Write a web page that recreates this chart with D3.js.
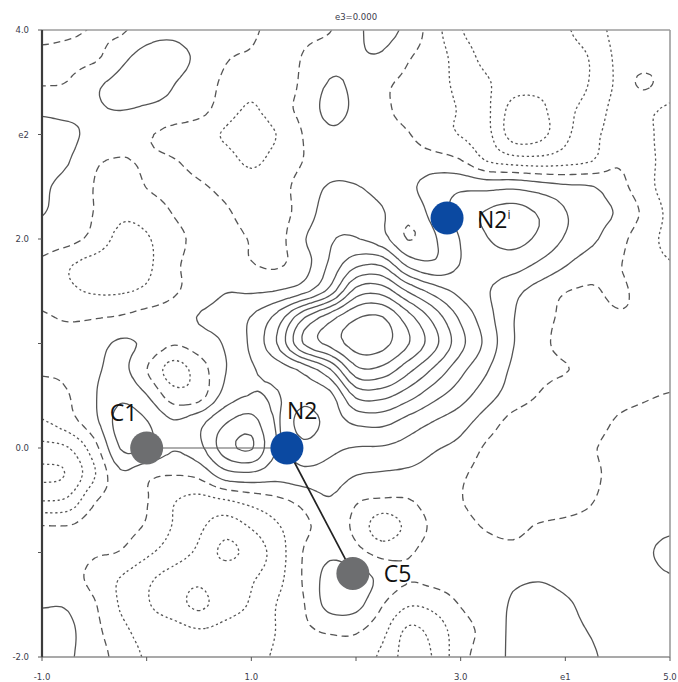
<!DOCTYPE html>
<html>
<head>
<meta charset="utf-8">
<title>Section e3=0.000</title>
<script src="https://cdnjs.cloudflare.com/ajax/libs/d3/7.8.5/d3.min.js"></script>
<style>
  body { margin: 0; background: #fff; }
  .iso { fill: none; stroke: #555; stroke-width: 1.3; stroke-linecap: butt; stroke-linejoin: round; }
  .axis-text { font-family: "DejaVu Sans", sans-serif; font-size: 8.5px; fill: #3b3b4b; }
  .atom-label { font-family: "Open Sans", sans-serif; font-size: 23px; fill: #111; }
</style>
</head>
<body>
<script>
// grid nodes (data units), rows listed from the top edge (e2 = 4) down
var gridX = [-1, -0.75, -0.5, -0.25, 0, 0.25, 0.5, 0.75, 1, 1.25, 1.5, 1.75, 2,
             2.25, 2.5, 2.75, 3, 3.25, 3.5, 3.75, 4, 4.25, 4.5, 4.75, 5];
var gridY = [4, 3.75, 3.5, 3.25, 3, 2.75, 2.5, 2.25, 2, 1.75, 1.5, 1.25, 1,
             0.75, 0.5, 0.25, 0, -0.25, -0.5, -0.75, -1, -1.25, -1.5, -1.75, -2];

// map values, in contour steps (0 = dashed line)
var density = [
  [0.3, 0.15, -0.05, -0.15, 0.6, 0.8, 0.5, 0.3, 0.1, -0.2, -0.2, -0.05, 0.8, 1.3, 0.7, -0.6, -1.95, -2.4, -2.5, -2.4, -2.1, -1.5, -0.7, -0.6, -0.7],
  [-0.2, -0.25, -0.2, 0.7, 1.3, 1.3, 0.8, 0.1, -0.1, -0.4, 0.05, 0.6, 0.9, 0.9, 0.1, -0.5, -1.5, -2.3, -2.6, -2.7, -2.4, -1.9, -0.8, -0.6, -0.7],
  [-0.1, 0.03, 0.8, 1.2, 1.45, 1.05, 0.6, -0.2, -0.7, -0.6, 0.2, 1.05, 0.8, 0.2, -0.2, -0.6, -1.3, -1.9, -2.5, -2.7, -2.6, -1.9, -0.8, 0.2, -0.6],
  [0.8, 0.7, 0.9, 1.05, 0.9, 0.7, 0.4, -0.5, -1.1, -0.4, 0.3, 1.3, 0.8, 0.2, -0.3, -0.6, -1.1, -1.8, -3.3, -3.2, -2.3, -1.6, -0.7, -0.8, -1.1],
  [1.3, 1.2, 0.7, 0.3, 0.1, -0.3, -0.6, -1.1, -1.6, -0.95, 0.05, 0.8, 0.6, 0.3, 0.05, -0.6, -1.05, -1.7, -3.4, -3.3, -2.2, -1.3, -0.6, -0.8, -1.3],
  [1.2, 1.05, 0.15, -0.05, 0.1, 0.05, -0.3, -0.6, -1.2, -0.6, 0.02, 0.5, 0.6, 0.5, 0.4, 0.4, 0.05, -1.05, -1.5, -1.6, -1.4, -1.05, -0.15, -0.7, -1.3],
  [1.1, 0.7, -0.03, -0.6, 0.03, 0.25, 0.1, -0.2, -0.5, -0.3, 0.35, 1.1, 1.05, 0.7, 0.8, 1.5, 1.8, 1.7, 1.8, 1.5, 1.2, 1.05, 0.4, -0.6, -1.4],
  [1.05, 0.5, -0.03, -0.8, -0.6, 0.03, 0.3, 0.1, -0.3, -0.3, 0.4, 1.6, 1.7, 1.1, 0.3, 1.4, 2.4, 3.1, 3.4, 2.9, 2.05, 1.3, 0.9, -0.2, -1.2],
  [0.5, 0.3, -0.3, -1.3, -1.1, -0.3, 0.2, 0.25, -0.05, -0.3, 0.9, 1.9, 2.05, 1.4, -0.05, 0.9, 2.05, 2.95, 3.3, 2.8, 1.9, 1.2, 0.4, -0.6, -1.2],
  [-0.2, -0.9, -1.4, -1.5, -1.2, -0.2, 0.3, 0.35, 0.05, -0.1, 0.6, 2.2, 3.8, 3.9, 1.8, 1.2, 2.05, 2.4, 2.4, 1.8, 1.05, 0.4, 0.1, -0.6, -0.95],
  [-0.3, -0.8, -1.1, -1.1, -0.8, -0.15, 0.4, 0.95, 0.9, 1.05, 1.7, 3.4, 6.4, 6.6, 4.9, 3.6, 2.7, 2.1, 1.3, 0.6, 0.03, -0.1, 0.15, -0.3, -0.7],
  [0.1, -0.1, -0.05, 0.1, 0.4, 0.5, 1.05, 1.4, 2.05, 3.4, 5.9, 7.6, 8.9, 9.05, 7.4, 5.6, 3.8, 2.4, 1.05, 0.4, -0.2, -0.3, -0.1, -0.1, -0.4],
  [0.3, 0.35, 0.6, 1.15, 0.8, 0.1, 0.5, 1.1, 2.2, 4.05, 7.05, 8.3, 9.4, 9.3, 8.05, 6.3, 4.3, 2.7, 1.05, 0.3, -0.3, -0.4, -0.4, -0.3, -0.3],
  [0.1, 0.2, 0.8, 1.3, 0.03, -1.4, -0.5, 0.95, 1.9, 2.4, 3.3, 4.9, 7.7, 7.7, 6.3, 4.8, 3.3, 2.1, 0.8, 0.3, 0.05, -0.3, -0.4, -0.4, -0.3],
  [-0.4, -0.05, 0.9, 1.8, 1.05, -0.5, -0.4, 1.4, 2.05, 1.95, 2.6, 2.7, 5.2, 5.3, 4.4, 3.3, 2.4, 1.4, 0.5, -0.05, -0.5, -0.6, -0.3, -0.1, 0.05],
  [-1.1, -0.4, 0.7, 2.4, 2.05, 1.1, 1.7, 2.9, 3.4, 1.9, 3.6, 2.6, 3.2, 3.3, 2.6, 1.95, 1.4, 0.5, -0.3, -0.5, -0.6, -0.4, 0.1, 0.3, 0.4],
  [-2.3, -2.05, -0.4, 2.05, 2.05, 1.1, 1.7, 3.5, 4.1, 1.9, 2.6, 2.2, 1.95, 1.9, 1.6, 1.1, 0.7, -0.15, -0.5, -0.7, -0.6, -0.1, 0.3, 0.5, 0.6],
  [-3.2, -2.9, -1.1, 0.8, 0.2, 0.05, 0.3, 1.6, 1.8, 1.4, 1.7, 1.6, 1.05, 0.9, 0.8, 0.6, 0.15, -0.4, -0.7, -0.8, -0.7, -0.2, 0.3, 0.6, 0.7],
  [-2.05, -1.8, -0.1, 0.3, 0.05, -0.9, -1.3, -1.05, -0.6, -0.2, 0.3, 0.9, 0.1, -0.1, -0.05, 0.4, 0.05, -0.5, -0.7, -0.7, -0.4, -0.05, 0.4, 0.7, 0.8],
  [0.05, 0.05, 0.4, 0.3, -0.1, -1.05, -1.8, -2.5, -1.9, -1.1, -0.2, 0.3, -0.2, -1.6, -0.7, 0.2, 0.3, -0.1, -0.3, 0.1, 0.2, 0.3, 0.6, 0.8, 0.9],
  [0.4, 0.35, 0.1, -0.05, -0.8, -1.5, -2.2, -3.2, -2.6, -1.5, 0.05, 0.8, 0.3, -0.3, -0.1, 0.4, 0.6, 0.4, 0.3, 0.5, 0.5, 0.6, 0.7, 0.9, 1.15],
  [0.6, 0.4, -0.3, -1.05, -1.8, -2.4, -2.8, -2.3, -2.1, -1.3, 0.1, 1.4, 1.5, 0.7, 0.1, 0.3, 0.5, 0.7, 0.85, 0.95, 0.8, 0.7, 0.7, 0.8, 0.95],
  [0.95, 0.9, 0.1, -1.1, -1.9, -2.5, -3.2, -2.4, -1.9, -0.95, -0.05, 1.35, 1.3, 0.05, -0.9, -0.7, 0.05, 0.5, 1.1, 1.3, 1.1, 0.8, 0.7, 0.7, 0.7],
  [1.3, 1.2, 0.3, -0.7, -1.4, -1.6, -1.9, -1.7, -1.5, -0.95, -0.2, 0.1, 0.1, -0.7, -2.2, -1.6, -0.4, 0.3, 1.2, 1.4, 1.2, 0.95, 0.6, 0.6, 0.6],
  [1.2, 1.1, 0.5, -0.4, -1.1, -1.3, -1.4, -1.3, -1.2, -0.9, -0.6, -0.4, -0.5, -1.2, -2.4, -1.9, -0.3, 0.4, 1.2, 1.5, 1.4, 1.1, 0.7, 0.5, 0.4]
];

var levels = [-3, -2, -1, 0, 1, 2, 3, 4, 5, 6, 7, 8, 9];

var atomNames = ["C1", "N2", "C5", "N2"];
var atomSup = ["", "", "", "i"];
var atomKind = ["C", "N", "C", "N"];
var atomX = [0.0, 1.34, 1.97, 2.87];
var atomY = [0.0, 0.0, -1.2, 2.2];
var bonds = [[0, 1], [1, 2]];

var xTickValues = [-1, 0, 1, 2, 3, 4, 5];
var xTickLabels = ["-1.0", "", "1.0", "", "3.0", "e1", "5.0"];
var yTickValues = [4, 3, 2, 1, 0, -1, -2];
var yTickLabels = ["4.0", "e2", "2.0", "", "0.0", "", "-2.0"];

var w = 678, h = 682;
var x = d3.scaleLinear().domain([-1, 5]).range([42, 670]);
var y = d3.scaleLinear().domain([-2, 4]).range([657, 30]);

var svg = d3.select("body").append("svg")
    .attr("width", w)
    .attr("height", h);

svg.append("defs").append("clipPath")
    .attr("id", "plot")
    .append("rect")
    .attr("x", x(-1)).attr("y", y(4))
    .attr("width", x(5) - x(-1)).attr("height", y(-2) - y(4));

// drawing only: resample the grid with a cubic kernel so the isolines come out smooth
var nx = gridX.length, ny = gridY.length, sub = 4;
var fx = (nx - 1) * sub + 1, fy = (ny - 1) * sub + 1;

function at(i, j) {
    i = Math.max(0, Math.min(nx - 1, i));
    j = Math.max(0, Math.min(ny - 1, j));
    return density[j][i];
}
function cubicWeights(t) {
    var t2 = t * t, t3 = t2 * t;
    return [(-t3 + 2 * t2 - t) / 2, (3 * t3 - 5 * t2 + 2) / 2,
            (-3 * t3 + 4 * t2 + t) / 2, (t3 - t2) / 2];
}
var fine = new Array(fx * fy);
for (var b = 0; b < fy; b++) {
    var gj = b / sub, j0 = Math.floor(gj), wy = cubicWeights(gj - j0);
    for (var a = 0; a < fx; a++) {
        var gi = a / sub, i0 = Math.floor(gi), wx = cubicWeights(gi - i0);
        var s = 0;
        for (var m = 0; m < 4; m++) {
            for (var n = 0; n < 4; n++) {
                s += wy[m] * wx[n] * at(i0 - 1 + n, j0 - 1 + m);
            }
        }
        fine[b * fx + a] = s;
    }
}

var contours = d3.contours().size([fx, fy]).thresholds(levels)(fine);

var stepX = (gridX[1] - gridX[0]) / sub, stepY = (gridY[1] - gridY[0]) / sub;
function px(g) { return x(gridX[0] + (g - 0.5) * stepX); }
function py(g) { return y(gridY[0] + (g - 0.5) * stepY); }

function onEdge(p) {
    return p[0] <= 0 || p[0] >= fx || p[1] <= 0 || p[1] >= fy;
}

// cut rings where they run along the border of the grid
function pieces(ring) {
    var pts = ring.slice(0, -1);
    var len = pts.length;
    var start = pts.findIndex(onEdge);
    if (start < 0) return [{ closed: true, pts: pts }];
    var out = [], run = [];
    for (var k = 1; k <= len; k++) {
        var p = pts[(start + k) % len];
        if (onEdge(p)) {
            if (run.length > 1) out.push({ closed: false, pts: run });
            run = [];
        } else {
            run.push(p);
        }
    }
    if (run.length > 1) out.push({ closed: false, pts: run });
    return out;
}

var openLine = d3.line()
    .x(function(p) { return px(p[0]); })
    .y(function(p) { return py(p[1]); })
    .curve(d3.curveCatmullRom.alpha(0.5));
var closedLine = d3.line()
    .x(function(p) { return px(p[0]); })
    .y(function(p) { return py(p[1]); })
    .curve(d3.curveCatmullRomClosed.alpha(0.5));

var gIso = svg.append("g").attr("clip-path", "url(#plot)");
contours.forEach(function(c) {
    var dash = c.value < 0 ? "2.3,2.7" : (c.value === 0 ? "7,4.5" : null);
    c.coordinates.forEach(function(poly) {
        poly.forEach(function(ring) {
            pieces(ring).forEach(function(part) {
                gIso.append("path")
                    .attr("class", "iso")
                    .attr("stroke-dasharray", dash)
                    .attr("d", part.closed ? closedLine(part.pts) : openLine(part.pts));
            });
        });
    });
});

// frame
svg.append("line").attr("x1", x(-1)).attr("x2", x(5)).attr("y1", y(4)).attr("y2", y(4))
    .attr("stroke", "#9c9c9c").attr("stroke-width", 1.6);
svg.append("line").attr("x1", x(5)).attr("x2", x(5)).attr("y1", y(4)).attr("y2", y(-2))
    .attr("stroke", "#9c9c9c").attr("stroke-width", 1.6);
svg.append("line").attr("x1", x(-1)).attr("x2", x(5)).attr("y1", y(-2)).attr("y2", y(-2))
    .attr("stroke", "#8c8c8c").attr("stroke-width", 1.6);
svg.append("line").attr("x1", x(-1)).attr("x2", x(-1)).attr("y1", y(4)).attr("y2", y(-2))
    .attr("stroke", "#3c3c3c").attr("stroke-width", 2.2);

// ticks
svg.selectAll(".ytick").data(yTickValues).enter().append("line")
    .attr("x1", x(-1) - 4).attr("x2", x(-1))
    .attr("y1", function(d) { return y(d); }).attr("y2", function(d) { return y(d); })
    .attr("stroke", "#555").attr("stroke-width", 1);
svg.selectAll(".ylab").data(yTickValues).enter().append("text")
    .attr("class", "axis-text")
    .attr("x", 29)
    .attr("y", function(d) { return y(d) + 3; })
    .attr("text-anchor", "end")
    .text(function(d, i) { return yTickLabels[i]; });

svg.selectAll(".xtick").data(xTickValues).enter().append("line")
    .attr("x1", function(d) { return x(d); }).attr("x2", function(d) { return x(d); })
    .attr("y1", y(-2)).attr("y2", y(-2) + 4)
    .attr("stroke", "#555").attr("stroke-width", 1);
svg.selectAll(".xlab").data(xTickValues).enter().append("text")
    .attr("class", "axis-text")
    .attr("x", function(d) { return x(d); })
    .attr("y", 680)
    .attr("text-anchor", "middle")
    .text(function(d, i) { return xTickLabels[i]; });

svg.append("text")
    .attr("class", "axis-text")
    .attr("x", (x(-1) + x(5)) / 2)
    .attr("y", 20)
    .attr("text-anchor", "middle")
    .text("e3=0.000");

// bonds and atoms
bonds.forEach(function(bd, i) {
    svg.append("line")
        .attr("x1", x(atomX[bd[0]])).attr("y1", y(atomY[bd[0]]))
        .attr("x2", x(atomX[bd[1]])).attr("y2", y(atomY[bd[1]]))
        .attr("stroke", i === 0 ? "#5e5e5e" : "#222")
        .attr("stroke-width", i === 0 ? 1.2 : 1.7);
});

svg.selectAll(".atom").data(atomNames).enter().append("circle")
    .attr("cx", function(d, i) { return x(atomX[i]); })
    .attr("cy", function(d, i) { return y(atomY[i]); })
    .attr("r", 16.5)
    .attr("fill", function(d, i) { return atomKind[i] === "N" ? "#0b49a1" : "#6d6e70"; });

// label offsets in pixels from the atom centre
var labelDx = [-37, 0, 31, 30];
var labelDy = [-27, -29, 9, 10];
atomNames.forEach(function(name, i) {
    var t = svg.append("text")
        .attr("class", "atom-label")
        .attr("x", x(atomX[i]) + labelDx[i])
        .attr("y", y(atomY[i]) + labelDy[i])
        .text(name);
    if (atomSup[i]) {
        t.append("tspan")
            .attr("font-size", "12px")
            .attr("dy", -9)
            .text(atomSup[i]);
    }
});
</script>
</body>
</html>
